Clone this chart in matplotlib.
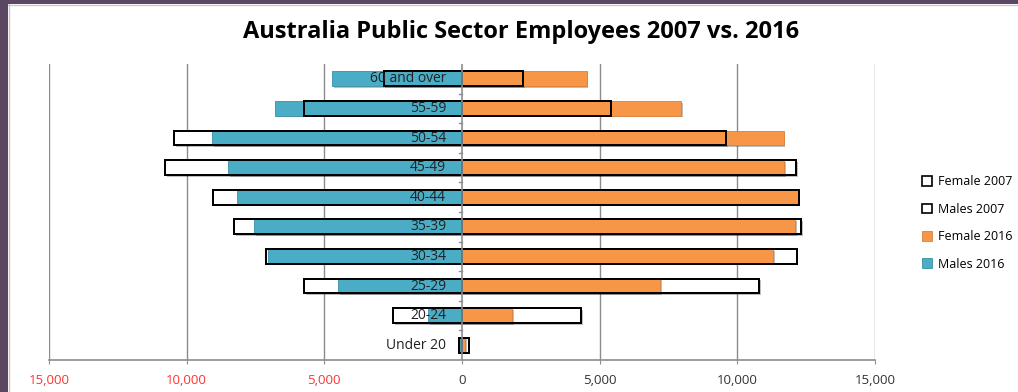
import matplotlib
matplotlib.use("Agg")
import matplotlib.pyplot as plt
import matplotlib.patheffects as pe
from matplotlib.patches import Patch, Rectangle
from matplotlib.ticker import FuncFormatter, FixedLocator

plt.rcParams['font.family'] = ['Open Sans', 'DejaVu Sans']

# Age groups from bottom to top
age_groups = ["Under 20", "20-24", "25-29", "30-34", "35-39",
              "40-44", "45-49", "50-54", "55-59", "60 and over"]

males_2007 = [110, 2490, 5740, 7130, 8280, 9040, 10780, 10450, 5750, 2840]
males_2016 = [80, 1220, 4490, 7060, 7540, 8190, 8500, 9080, 6790, 4710]
female_2007 = [240, 4340, 10800, 12160, 12320, 12230, 12130, 9600, 5410, 2210]
female_2016 = [120, 1820, 7190, 11290, 12110, 12200, 11710, 11680, 7950, 4530]

x_ticks = [-15000, -10000, -5000, 0, 5000, 10000, 15000]

orange = "#F79646"
blue = "#4BACC6"
grid_gray = "#8c8c8c"

fig = plt.figure(figsize=(10.18, 3.92), dpi=100)
ax = fig.add_axes([49 / 1018, 1 - 360 / 392, 826 / 1018, 296 / 392])

y = list(range(len(age_groups)))
h = 0.5
shadow = [pe.SimplePatchShadow(offset=(1.2, -1.2), shadow_rgbFace="#000000", alpha=0.25), pe.Normal()]

neg_m07 = [-v for v in males_2007]
neg_m16 = [-v for v in males_2016]

# 2007 bars: white fill underneath
ax.barh(y, neg_m07, height=h, color="white", edgecolor="black", linewidth=1.4,
        zorder=2, path_effects=shadow)
ax.barh(y, female_2007, height=h, color="white", edgecolor="black", linewidth=1.4,
        zorder=2, path_effects=shadow)
# 2016 bars in colour
ax.barh(y, neg_m16, height=h, color=blue, edgecolor="#3d8fa6", linewidth=0.6,
        zorder=3, path_effects=shadow)
ax.barh(y, female_2016, height=h, color=orange, edgecolor="#d9803a", linewidth=0.6,
        zorder=3, path_effects=shadow)
# 2007 outlines on top
ax.barh(y, neg_m07, height=h, fill=False, edgecolor="black", linewidth=1.4, zorder=4)
ax.barh(y, female_2007, height=h, fill=False, edgecolor="black", linewidth=1.4, zorder=4)

ax.set_xlim(-15000, 15000)
ax.set_ylim(-0.5, len(age_groups) - 0.5)

# vertical gridlines
for xv in x_ticks:
    if xv != 0:
        ax.axvline(xv, color=grid_gray, linewidth=1.0, zorder=0)
# central category axis
ax.axvline(0, color=grid_gray, linewidth=1.2, zorder=5)
for yb in [i + 0.5 for i in range(len(age_groups) - 1)]:
    ax.plot([-110, 0], [yb, yb], color=grid_gray, linewidth=1.0, zorder=5,
            clip_on=False)

for s in ["top", "right", "left"]:
    ax.spines[s].set_visible(False)
ax.spines["bottom"].set_color(grid_gray)
ax.spines["bottom"].set_linewidth(1.2)
ax.set_yticks([])

ax.xaxis.set_major_locator(FixedLocator(x_ticks))
ax.xaxis.set_major_formatter(FuncFormatter(lambda v, p: f"{abs(int(v)):,}"))
ax.tick_params(axis="x", length=3, color=grid_gray, labelsize=9.5, pad=7)
for lbl, v in zip(ax.get_xticklabels(), x_ticks):
    lbl.set_color("#ff3333" if v < 0 else "#333333")

# category labels beside the axis
for yi, name in zip(y, age_groups):
    ax.annotate(name, xy=(0, yi), xytext=(-11.5, 0), textcoords="offset points",
                ha="right", va="center", fontsize=10, color="#222222", zorder=6)

fig.text(521 / 1018, 1 - 32 / 392, "Australia Public Sector Employees 2007 vs. 2016",
         ha="center", va="center", fontsize=17, fontweight="bold", color="black")

handles = [Patch(facecolor="white", edgecolor="black", linewidth=1.2),
           Patch(facecolor="white", edgecolor="black", linewidth=1.2),
           Patch(facecolor=orange, edgecolor="#d9803a", linewidth=0.6),
           Patch(facecolor=blue, edgecolor="#3d8fa6", linewidth=0.6)]
labels = ["Female 2007", "Males 2007", "Female 2016", "Males 2016"]
fig.legend(handles, labels, loc="center left",
           bbox_to_anchor=(916 / 1018, 1 - 223 / 392), frameon=False,
           fontsize=9, handlelength=0.8, handleheight=0.8,
           handletextpad=0.45, labelspacing=1.15, borderpad=0)

# frame around the figure
fig.patches.append(Rectangle((0, 1 - 4 / 392), 1, 4 / 392, transform=fig.transFigure,
                             facecolor="#5b4761", edgecolor="none", zorder=10))
fig.patches.append(Rectangle((0, 0), 8 / 1018, 1, transform=fig.transFigure,
                             facecolor="#5b4761", edgecolor="none", zorder=10))
fig.lines.append(plt.Line2D([8 / 1018, 1], [1 - 5 / 392, 1 - 5 / 392],
                            transform=fig.transFigure, color="#c8c8c8", linewidth=1))
fig.lines.append(plt.Line2D([9 / 1018, 9 / 1018], [0, 1 - 4 / 392],
                            transform=fig.transFigure, color="#c8c8c8", linewidth=1))

fig.savefig("out.png", dpi=100)
